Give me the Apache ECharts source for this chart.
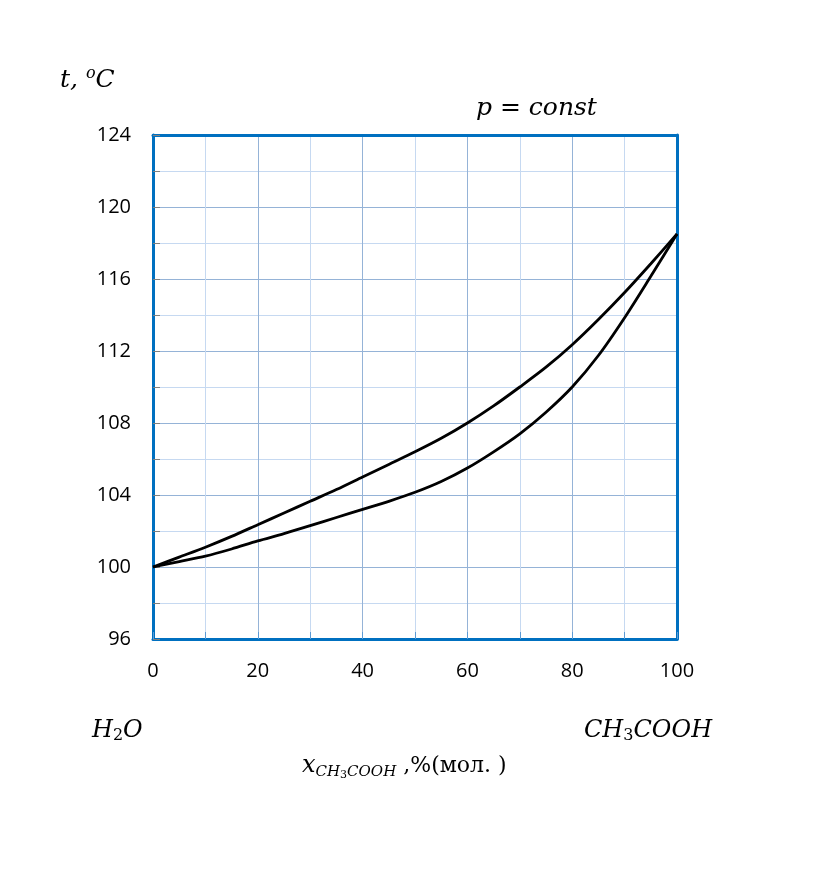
<!DOCTYPE html>
<html><head><meta charset="utf-8">
<script src="https://cdn.jsdelivr.net/npm/echarts@6/dist/echarts.min.js"></script>
<style>html,body{margin:0;padding:0;background:#fff}#c{width:834px;height:880px}</style>
</head><body><div id="c"></div>
<script>
const xValues = [0, 5, 10, 15, 20, 25, 30, 35, 40, 45, 50, 55, 60, 65, 70, 75, 80, 85, 90, 95, 100];
const vaporLine = [100, 100.55, 101.1, 101.7, 102.35, 103.0, 103.65, 104.3, 105.0, 105.7, 106.4, 107.15, 108.0, 108.95, 110.0, 111.1, 112.35, 113.75, 115.25, 116.85, 118.5];
const liquidLine = [100, 100.3, 100.6, 101.0, 101.45, 101.85, 102.3, 102.75, 103.2, 103.65, 104.15, 104.75, 105.5, 106.4, 107.4, 108.6, 110.0, 111.75, 113.85, 116.15, 118.5];
const yMin = 96, yMax = 124, yStep = 4;
const xMin = 0, xMax = 100, xStep = 20;

const chart = echarts.init(document.getElementById('c'));
const serif = '"DejaVu Serif", "Liberation Serif", serif';
const sans = '"Open Sans", "Liberation Sans", sans-serif';
const border = {show: true, onZero: false, lineStyle: {color: '#0070c0', width: 3}};
const mathStyle = {fontFamily: serif, fontStyle: 'italic', fill: '#000'};
chart.setOption({
  animation: false,
  grid: {left: 153, right: 157, top: 135, bottom: 241, show: false},
  xAxis: [{
    type: 'value', min: xMin, max: xMax, interval: xStep,
    axisLine: border, z: 3,
    axisTick: {show: true, inside: true, length: 7, lineStyle: {color: '#5b9bd5', width: 1}},
    minorTick: {show: true, splitNumber: 2, length: 7, lineStyle: {color: '#5b9bd5', width: 1}},
    axisLabel: {margin: 22, fontSize: 20, color: '#000', fontFamily: sans},
    splitLine: {show: true, lineStyle: {color: '#95b3d7', width: 1}},
    minorSplitLine: {show: true, lineStyle: {color: '#c6d9f1', width: 1}}
  }, {
    type: 'value', position: 'top', min: xMin, max: xMax, interval: xStep,
    axisLine: border, axisTick: {show: false}, axisLabel: {show: false}, splitLine: {show: false}, z: 3
  }],
  yAxis: [{
    type: 'value', min: yMin, max: yMax, interval: yStep,
    axisLine: border, z: 3,
    axisTick: {show: true, inside: true, length: 7, lineStyle: {color: '#808080', width: 1}},
    minorTick: {show: true, splitNumber: 2, length: 7, lineStyle: {color: '#808080', width: 1}},
    axisLabel: {margin: 22, fontSize: 20, color: '#000', fontFamily: sans},
    splitLine: {show: true, lineStyle: {color: '#95b3d7', width: 1}},
    minorSplitLine: {show: true, lineStyle: {color: '#c6d9f1', width: 1}}
  }, {
    type: 'value', position: 'right', min: yMin, max: yMax, interval: yStep,
    axisLine: border, axisTick: {show: false}, axisLabel: {show: false}, splitLine: {show: false}, z: 3
  }],
  series: [
    {type: 'line', data: xValues.map((x, i) => [x, vaporLine[i]]), smooth: 0.3, showSymbol: false, lineStyle: {color: '#000', width: 2.8}, z: 5},
    {type: 'line', data: xValues.map((x, i) => [x, liquidLine[i]]), smooth: 0.3, showSymbol: false, lineStyle: {color: '#000', width: 2.8}, z: 5}
  ],
  graphic: [
    {type: 'text', left: 60, top: 66, style: {
      text: '{a|t, }{s|o}{a|C}', rich: {a: Object.assign({fontSize: 25}, mathStyle), s: {fontSize: 16, fontFamily: serif, fontStyle: 'italic', verticalAlign: 'top', padding: [0, 0, 12, 0]}}
    }},
    {type: 'text', left: 476, top: 96, style: Object.assign({text: 'p = const', fontSize: 25}, mathStyle)},
    {type: 'text', left: 92, top: 719, style: {
      text: '{a|H}{s|2}{a|O}', fontFamily: serif, rich: {a: {fontSize: 24, fontStyle: 'italic', fontFamily: serif}, s: {fontSize: 16, fontFamily: serif, padding: [10, 0, 0, 0]}}
    }},
    {type: 'text', left: 584, top: 719, style: {
      text: '{a|CH}{s|3}{a|COOH}', fontFamily: serif, rich: {a: {fontSize: 24, fontStyle: 'italic', fontFamily: serif}, s: {fontSize: 16, fontFamily: serif, padding: [10, 0, 0, 0]}}
    }},
    {type: 'text', left: 302, top: 754, style: {
      text: '{a|x}{b|CH}{c|3}{b|COOH}{d| ,%(мол. )}', fontFamily: serif,
      rich: {
        a: {fontSize: 24, fontStyle: 'italic', fontFamily: serif},
        b: {fontSize: 15, fontStyle: 'italic', fontFamily: serif, padding: [12, 0, 0, 0]},
        c: {fontSize: 11, fontFamily: serif, padding: [18, 0, 0, 0]},
        d: {fontSize: 22, fontFamily: serif}
      }
    }}
  ]
});
</script></body></html>
